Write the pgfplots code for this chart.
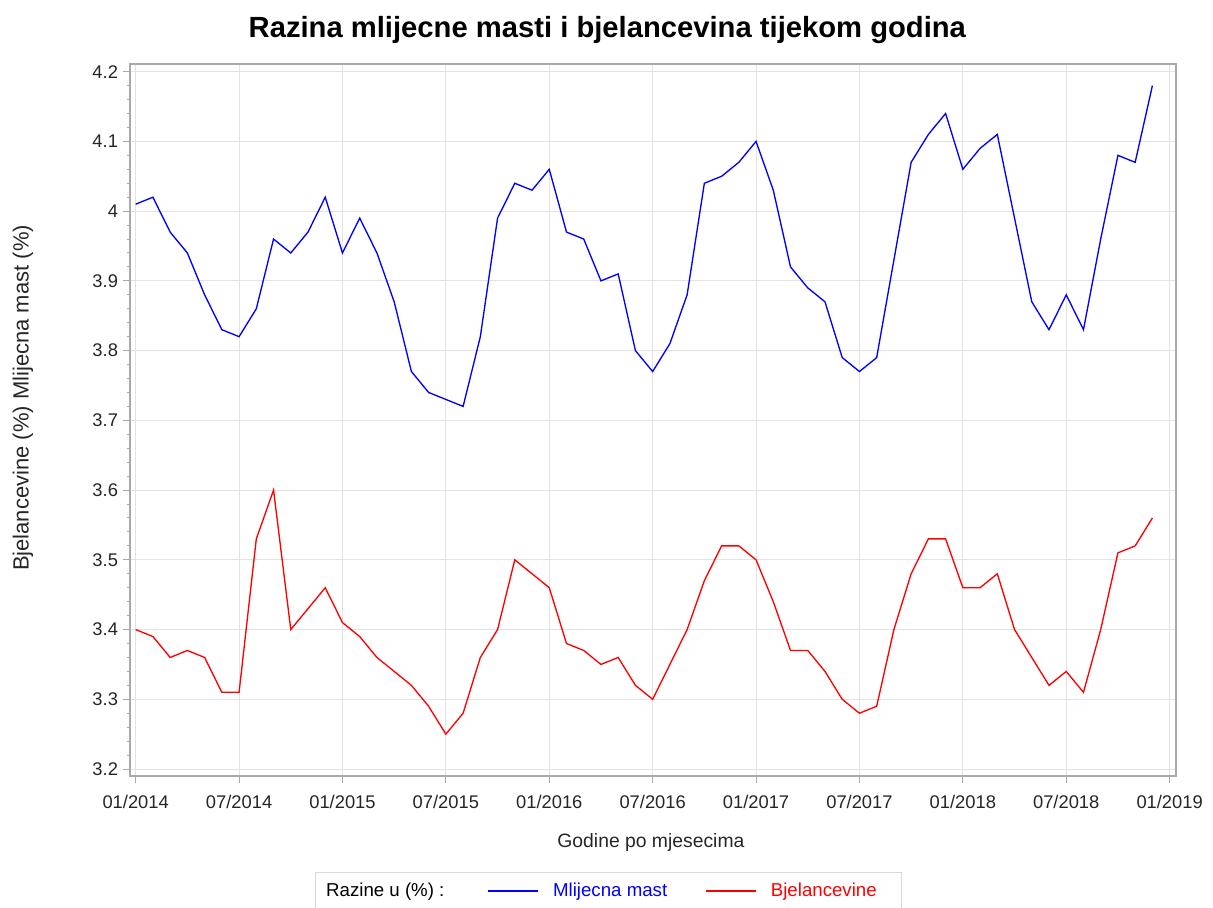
\documentclass[border=0pt]{standalone}
\usepackage{pgfplots}
\pgfplotsset{compat=1.18}
\usepackage{pgfplotstable}
\usepackage{fontspec}
\setmainfont{Liberation Sans}
\definecolor{gridc}{HTML}{E3E3E3}
\definecolor{axisc}{HTML}{A6A9AD}
\definecolor{legc}{HTML}{D9D9D9}
\definecolor{myblue}{HTML}{0000FF}
\definecolor{myred}{HTML}{FF0000}

\pgfplotstableread{
m fat protein
0 4.01 3.40
1 4.02 3.39
2 3.97 3.36
3 3.94 3.37
4 3.88 3.36
5 3.83 3.31
6 3.82 3.31
7 3.86 3.53
8 3.96 3.60
9 3.94 3.40
10 3.97 3.43
11 4.02 3.46
12 3.94 3.41
13 3.99 3.39
14 3.94 3.36
15 3.87 3.34
16 3.77 3.32
17 3.74 3.29
18 3.73 3.25
19 3.72 3.28
20 3.82 3.36
21 3.99 3.40
22 4.04 3.50
23 4.03 3.48
24 4.06 3.46
25 3.97 3.38
26 3.96 3.37
27 3.90 3.35
28 3.91 3.36
29 3.80 3.32
30 3.77 3.30
31 3.81 3.35
32 3.88 3.40
33 4.04 3.47
34 4.05 3.52
35 4.07 3.52
36 4.10 3.50
37 4.03 3.44
38 3.92 3.37
39 3.89 3.37
40 3.87 3.34
41 3.79 3.30
42 3.77 3.28
43 3.79 3.29
44 3.93 3.40
45 4.07 3.48
46 4.11 3.53
47 4.14 3.53
48 4.06 3.46
49 4.09 3.46
50 4.11 3.48
51 3.99 3.40
52 3.87 3.36
53 3.83 3.32
54 3.88 3.34
55 3.83 3.31
56 3.96 3.40
57 4.08 3.51
58 4.07 3.52
59 4.18 3.56
}\data

\begin{document}
\begin{tikzpicture}
\useasboundingbox (0,0) rectangle (909.75pt,-680.25pt);
\node[font=\fontsize{21.9}{25}\selectfont\bfseries, anchor=base] at (455.5pt,-27.75pt) {Razina mlijecne masti i bjelancevina tijekom godina};
\begin{axis}[
  at={(97.5pt,-582pt)}, anchor=south west,
  scale only axis, width=784.5pt, height=534pt,
  xmin=-0.33, xmax=60.37, ymin=3.19, ymax=4.211,
  xtick={0,6,12,18,24,30,36,42,48,54,60},
  xticklabels={01/2014,07/2014,01/2015,07/2015,01/2016,07/2016,01/2017,07/2017,01/2018,07/2018,01/2019},
  ytick={3.2,3.3,3.4,3.5,3.6,3.7,3.8,3.9,4.0,4.1,4.2},
  yticklabels={3.2,3.3,3.4,3.5,3.6,3.7,3.8,3.9,4,4.1,4.2},
  minor y tick num=4,
  grid=major,
  major grid style={draw=gridc, line width=0.75pt},
  axis line style={draw=axisc, line width=1pt},
  tick style={draw=axisc, line width=0.75pt},
  tick align=outside,
  major tick length=5.5pt, minor tick length=2.5pt,
  xtick pos=bottom, ytick pos=left,
  ticklabel style={font=\fontsize{13.75}{16}\selectfont, text=black!85},
  xticklabel style={yshift=-5pt},
  xlabel={Godine po mjesecima},
  ylabel={Bjelancevine (\%) Mlijecna mast (\%)},
  xlabel style={font=\fontsize{14.5}{17}\selectfont, text=black!85, at={(axis description cs:0.498,-0.0927)}, anchor=center},
  ylabel style={font=\fontsize{16.5}{19}\selectfont, text=black!85, at={(axis description cs:-0.1023,0.531)}, anchor=center},
  legend style={at={(axis description cs:0.1769,-0.1348)}, anchor=north west,
    draw=legc, line width=0.75pt, legend columns=-1,
    font=\fontsize{14}{17}\selectfont, inner xsep=6pt, inner ysep=6pt,
    /tikz/every even column/.append style={column sep=30.5pt}},
  legend image code/.code={\draw[#1] (0pt,0pt) -- (37.5pt,0pt); \path (46pt,0pt);},
]
\addlegendimage{empty legend}
\addlegendentry{Razine u (\%) :}
\addplot[myblue, line width=1pt] table[x=m, y=fat] {\data};
\addlegendentry{\textcolor{myblue}{Mlijecna mast}\hspace*{-3.75pt}\mbox{}}
\addplot[myred, line width=1pt] table[x=m, y=protein] {\data};
\addlegendentry{\textcolor{myred}{Bjelancevine}\hspace*{10.5pt}\mbox{}}
\end{axis}
\end{tikzpicture}
\end{document}
